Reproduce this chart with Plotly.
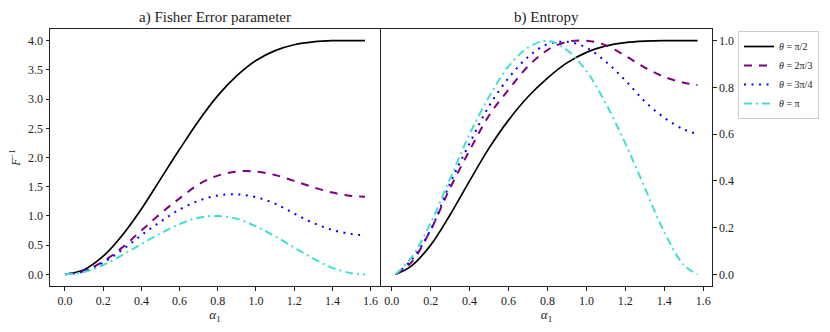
import plotly.graph_objects as go

# Valores
alpha_fisher = [0.0, 0.1, 0.2, 0.3, 0.4, 0.5, 0.6, 0.7, 0.8, 0.9, 1.0,
                1.1, 1.2, 1.3, 1.4, 1.5, 1.5708]
fisher_pi2 = [0.00, 0.08, 0.31, 0.67, 1.12, 1.63, 2.14, 2.63, 3.06, 3.40, 3.66,
              3.83, 3.93, 3.98, 4.00, 4.00, 4.00]
fisher_2pi3 = [0.00, 0.06, 0.22, 0.46, 0.75, 1.04, 1.30, 1.54, 1.69, 1.76, 1.76,
               1.70, 1.60, 1.49, 1.40, 1.34, 1.33]
fisher_3pi4 = [0.00, 0.05, 0.20, 0.42, 0.67, 0.90, 1.11, 1.26, 1.35, 1.37, 1.32,
               1.21, 1.04, 0.88, 0.76, 0.69, 0.67]
fisher_pi = [0.00, 0.04, 0.16, 0.33, 0.52, 0.70, 0.86, 0.97, 1.00, 0.95, 0.82,
             0.65, 0.46, 0.27, 0.11, 0.02, 0.00]

alpha_entropy = [0.02, 0.1, 0.2, 0.3, 0.4, 0.5, 0.6, 0.7, 0.8, 0.9, 1.0,
                 1.1, 1.2, 1.3, 1.4, 1.5, 1.5708]
entropy_pi2 = [0.00, 0.035, 0.125, 0.255, 0.40, 0.54, 0.66, 0.76, 0.84, 0.905, 0.95,
               0.978, 0.992, 0.998, 1.00, 1.00, 1.00]
entropy_2pi3 = [0.00, 0.05, 0.19, 0.37, 0.53, 0.68, 0.79, 0.89, 0.96, 0.995, 1.00,
                0.98, 0.935, 0.885, 0.845, 0.82, 0.81]
entropy_3pi4 = [0.00, 0.06, 0.19, 0.39, 0.56, 0.72, 0.84, 0.93, 0.985, 0.995, 0.97,
                0.91, 0.83, 0.74, 0.67, 0.62, 0.60]
entropy_pi = [0.00, 0.07, 0.22, 0.41, 0.60, 0.76, 0.89, 0.97, 1.00, 0.96, 0.87,
              0.73, 0.56, 0.37, 0.18, 0.04, 0.00]

etiquetas = ["<i>θ</i> = π/2", "<i>θ</i> = 2π/3", "<i>θ</i> = 3π/4", "<i>θ</i> = π"]
x_ticks = [0.0, 0.2, 0.4, 0.6, 0.8, 1.0, 1.2, 1.4, 1.6]
y_ticks_fisher = [0.0, 0.5, 1.0, 1.5, 2.0, 2.5, 3.0, 3.5, 4.0]
y_ticks_entropy = [0.0, 0.2, 0.4, 0.6, 0.8, 1.0]

# Estilos de línea (color, dash, grosor)
ESTILOS = [
    ("black", "solid", 1.7),
    ("purple", "8px,7px", 2.0),
    ("blue", "2px,5.5px", 2.0),
    ("turquoise", "8px,4px,2px,4px", 2.0),
]
FUENTE = "Liberation Serif"

# La página añade 8 px de margen al cuerpo: la figura se reduce y se desplaza
ANCHO, ALTO, OFF = 814, 316, 8


def fx(p):
    return (p - OFF) / ANCHO


def fy(p):
    return 1 - (p - OFF) / ALTO


fig = go.Figure()

series_f = [fisher_pi2, fisher_2pi3, fisher_3pi4, fisher_pi]
series_e = [entropy_pi2, entropy_2pi3, entropy_3pi4, entropy_pi]

for i, (ys, etiqueta) in enumerate(zip(series_f, etiquetas)):
    color, dash, w = ESTILOS[i]
    fig.add_trace(go.Scatter(
        x=alpha_fisher, y=ys, mode="lines", name=etiqueta,
        line={"color": color, "dash": dash, "width": w, "shape": "spline"},
        xaxis="x", yaxis="y", showlegend=True,
    ))

for i, ys in enumerate(series_e):
    color, dash, w = ESTILOS[i]
    fig.add_trace(go.Scatter(
        x=alpha_entropy, y=ys, mode="lines", name=etiquetas[i],
        line={"color": color, "dash": dash, "width": w, "shape": "spline"},
        xaxis="x2", yaxis="y2", showlegend=False,
    ))

eje_comun = dict(
    showgrid=False, zeroline=False, showline=True, linecolor="#222",
    linewidth=1, mirror=True, ticks="outside", ticklen=3.5, tickwidth=0.8,
    tickcolor="#222", automargin=False,
    tickfont={"size": 12, "color": "#222", "family": FUENTE},
)

y_dom = [fy(286), fy(29)]
titulo_x = {"text": "<i>α</i><sub>1</sub>", "font": {"size": 13}, "standoff": 5}

fig.update_layout(
    width=ANCHO, height=ALTO,
    margin={"l": 0, "r": 0, "t": 0, "b": 0, "autoexpand": False},
    paper_bgcolor="white", plot_bgcolor="white",
    font={"family": FUENTE, "color": "#222"},
    xaxis=dict(eje_comun, domain=[fx(50), fx(380)], range=[-0.0785, 1.6493],
               tickvals=x_ticks, tickformat=".1f", anchor="y", title=titulo_x),
    yaxis=dict(eje_comun, domain=y_dom, range=[-0.2, 4.2], tickvals=y_ticks_fisher,
               tickformat=".1f", anchor="x",
               title={"text": "<i>F</i><sup>−1</sup>", "font": {"size": 12},
                      "standoff": 8}),
    xaxis2=dict(eje_comun, domain=[fx(381), fx(712)], range=[-0.055, 1.645],
                tickvals=x_ticks, tickformat=".1f", anchor="y2", title=titulo_x),
    yaxis2=dict(eje_comun, domain=y_dom, range=[-0.05, 1.05], tickvals=y_ticks_entropy,
                tickformat=".1f", anchor="x2", side="right"),
    legend={
        "x": fx(819), "y": fy(31), "xanchor": "right", "yanchor": "top",
        "bordercolor": "#cccccc", "borderwidth": 1, "bgcolor": "white",
        "font": {"size": 10, "family": FUENTE}, "itemwidth": 30,
        "tracegroupgap": 2,
    },
    annotations=[
        dict(text="a) Fisher Error parameter", x=fx(215), y=fy(18),
             xref="paper", yref="paper", xanchor="center", yanchor="middle",
             showarrow=False, font={"size": 15, "family": FUENTE}),
        dict(text="b) Entropy", x=fx(546), y=fy(18),
             xref="paper", yref="paper", xanchor="center", yanchor="middle",
             showarrow=False, font={"size": 15, "family": FUENTE}),
    ],
)

fig.write_html("out.html")
